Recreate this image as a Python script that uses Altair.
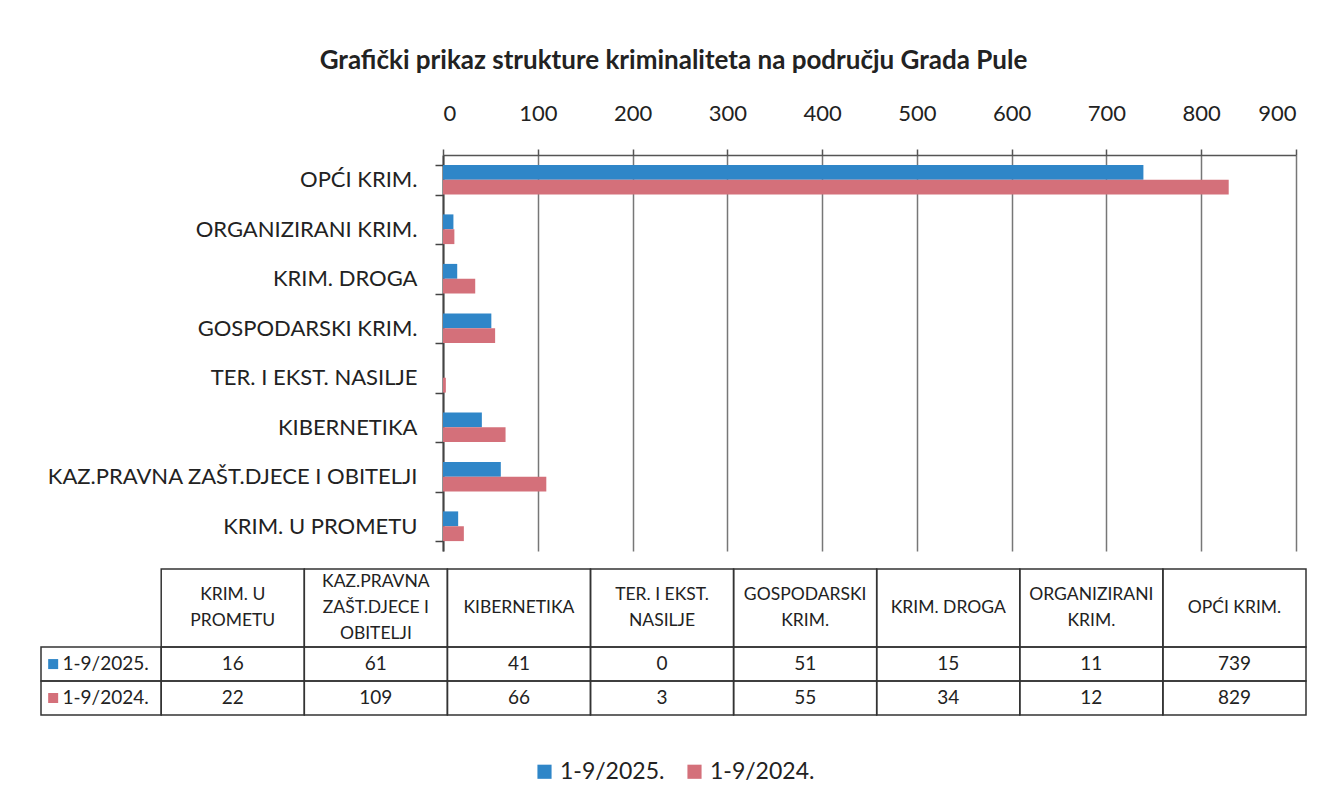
import altair as alt
import pandas as pd

categories = ["KRIM. U PROMETU", "KAZ.PRAVNA ZAŠT.DJECE I OBITELJI", "KIBERNETIKA",
              "TER. I EKST. NASILJE", "GOSPODARSKI KRIM.", "KRIM. DROGA",
              "ORGANIZIRANI KRIM.", "OPĆI KRIM."]
header_labels = [["KRIM. U", "PROMETU"], ["KAZ.PRAVNA", "ZAŠT.DJECE I", "OBITELJI"],
                 ["KIBERNETIKA"], ["TER. I EKST.", "NASILJE"], ["GOSPODARSKI", "KRIM."],
                 ["KRIM. DROGA"], ["ORGANIZIRANI", "KRIM."], ["OPĆI KRIM."]]
series = ["1-9/2025.", "1-9/2024."]
values_2025 = [16, 61, 41, 0, 51, 15, 11, 739]
values_2024 = [22, 109, 66, 3, 55, 34, 12, 829]
colors = ["#2f86c8", "#d4707a"]
x_ticks = list(range(0, 901, 100))

FONT = "Lato"
TXT = "#222222"

# ---------- bar chart ----------
rows = []
for s, vals in zip(series, [values_2025, values_2024]):
    for c, v in zip(categories, vals):
        rows.append({"category": c, "series": s, "value": v})
df = pd.DataFrame(rows)

legend_def = alt.Legend(
    orient="none", direction="horizontal", title=None,
    legendX=90, legendY=605,
    symbolType="square", symbolSize=200, symbolStrokeWidth=0,
    labelFont=FONT, labelFontSize=23, labelColor=TXT, columnPadding=18,
)
color_enc = alt.Color("series:N", sort=series,
                      scale=alt.Scale(domain=series, range=colors),
                      legend=legend_def)

PLOT_W = 853
bars = alt.Chart(df).mark_bar().encode(
    y=alt.Y("category:N", sort=list(reversed(categories)),
            scale=alt.Scale(paddingInner=0.4, paddingOuter=0.2),
            axis=alt.Axis(title=None, labelFont=FONT, labelFontSize=22, labelColor=TXT,
                          labelPadding=18, labelLimit=0, tickBand="extent", tickSize=8,
                          tickColor="#444", tickWidth=1.5, domainColor="#444",
                          domainWidth=2)),
    yOffset=alt.YOffset("series:N", sort=series),
    x=alt.X("value:Q", scale=alt.Scale(domain=[0, 900], nice=False),
            axis=alt.Axis(orient="top", values=x_ticks, title=None, format="d",
                          labelFont=FONT, labelFontSize=22, labelColor=TXT,
                          labelPadding=24, tickSize=6, tickColor="#555",
                          tickWidth=1.5, domainColor="#555", domainWidth=1.5,
                          grid=True, gridColor="#777", gridWidth=1.5)),
    color=color_enc,
).properties(width=PLOT_W, height=396)

# ---------- data table ----------
ncol = len(categories)
LABEL_W = 0.84
HEADER_H = 2.3
LINE = 0.76
TABLE_LEFT = -402   # table starts this far left of the bar plot origin
TABLE_RIGHT = 863

cells, heads, texts, labels = [], [], [], []
for i, lines in enumerate(header_labels):
    cells.append({"x": i, "x2": i + 1, "y": 0, "y2": HEADER_H})
    n = len(lines)
    for j, t in enumerate(lines):
        heads.append({"x": i + 0.5, "y": HEADER_H / 2 + (j - (n - 1) / 2) * LINE, "t": t})
for r, (s, vals) in enumerate(zip(series, [values_2025, values_2024])):
    y0 = HEADER_H + r
    cells.append({"x": -LABEL_W, "x2": 0, "y": y0, "y2": y0 + 1})
    labels.append({"x": -LABEL_W + 0.085, "xt": -LABEL_W + 0.15, "y": y0 + 0.5,
                   "series": s})
    for i, v in enumerate(vals):
        cells.append({"x": i, "x2": i + 1, "y": y0, "y2": y0 + 1})
        texts.append({"x": i + 0.5, "y": y0 + 0.5, "t": str(v)})

xs = alt.Scale(domain=[-LABEL_W, ncol], nice=False, zero=False,
               range=[TABLE_LEFT, TABLE_RIGHT])
ys = alt.Scale(domain=[0, HEADER_H + 2], nice=False, zero=False, reverse=True)

cell_layer = alt.Chart(pd.DataFrame(cells)).mark_rect(
    fill="white", fillOpacity=0, stroke="#333", strokeWidth=1.5
).encode(x=alt.X("x:Q", scale=xs, axis=None), x2="x2:Q",
         y=alt.Y("y:Q", scale=ys, axis=None), y2="y2:Q")

head_layer = alt.Chart(pd.DataFrame(heads)).mark_text(
    font=FONT, fontSize=17.5, color=TXT, align="center", baseline="middle"
).encode(x=alt.X("x:Q", scale=xs, axis=None), y=alt.Y("y:Q", scale=ys, axis=None),
         text="t:N")
val_layer = alt.Chart(pd.DataFrame(texts)).mark_text(
    font=FONT, fontSize=19, color=TXT, align="center", baseline="middle"
).encode(x=alt.X("x:Q", scale=xs, axis=None), y=alt.Y("y:Q", scale=ys, axis=None),
         text="t:N")

ldf = pd.DataFrame(labels)
sq_layer = alt.Chart(ldf).mark_square(size=100, opacity=1).encode(
    x=alt.X("x:Q", scale=xs, axis=None), y=alt.Y("y:Q", scale=ys, axis=None),
    color=color_enc)
lab_layer = alt.Chart(ldf).mark_text(
    font=FONT, fontSize=19, color=TXT, align="left", baseline="middle"
).encode(x=alt.X("xt:Q", scale=xs, axis=None), y=alt.Y("y:Q", scale=ys, axis=None),
         text="series:N")

table = alt.layer(cell_layer, head_layer, val_layer, sq_layer, lab_layer).properties(
    width=TABLE_RIGHT, height=146)

chart = alt.vconcat(bars, table, spacing=17).properties(
    title=alt.Title("Grafički prikaz strukture kriminaliteta na području Grada Pule",
                    font=FONT, fontSize=26, fontWeight="bold", color=TXT,
                    anchor="middle", offset=28),
    padding={"left": 32, "top": 40, "right": 10, "bottom": 10},
).configure_view(stroke=None)

chart.save("out.html", embed_options={"renderer": "svg", "actions": False})
